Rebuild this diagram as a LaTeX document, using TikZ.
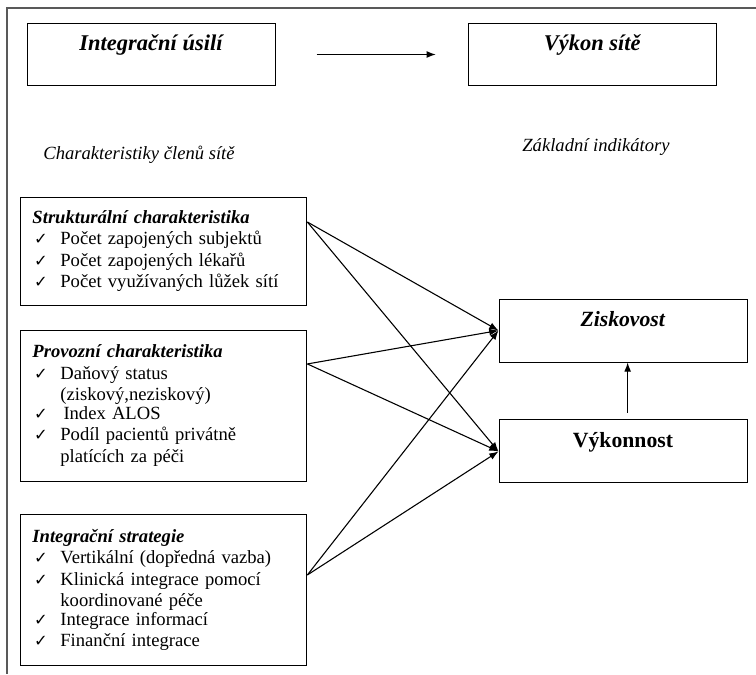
\documentclass[tikz,border=0pt]{standalone}
\usepackage{fontspec}
\setmainfont{Liberation Serif}
\newfontfamily\checkfont{DejaVu Sans}
\usetikzlibrary{arrows.meta,positioning}
\newcommand{\polozka}[1]{\par\noindent\makebox[18pt][l]{\hspace{1pt}{\checkfont\fontsize{10.5}{10}\selectfont ✓}}\parbox[t]{151pt}{\raggedright #1}}

\begin{document}
\begin{tikzpicture}[x=0.645pt, y=-0.645pt,
  ramec/.style={draw, rectangle, line width=0.6pt, inner sep=0pt},
  hlava/.style={ramec, minimum width=160pt, minimum height=39.4pt, font=\fontsize{14.5}{16}\selectfont\bfseries\itshape, text height=10pt, text depth=15pt},
  clen/.style={ramec, minimum width=185pt, text width=169pt, inner xsep=8pt, align=left, font=\fontsize{12}{13.9}\selectfont},
  cil/.style={ramec, minimum width=160pt, minimum height=40.6pt, font=\fontsize{14}{16}\selectfont\bfseries, text height=10pt, text depth=15pt},
  popis/.style={inner sep=0pt, font=\fontsize{12}{14}\selectfont\itshape},
  sipka/.style={-{Latex[length=6pt,width=4.5pt]}, line width=0.7pt}]
  \useasboundingbox (0,0) rectangle (756,674);
  \draw[black!65, line width=1pt] (756,8) -- (7,8) -- (7,674);

  \node[hlava] (usili) at (151,54.5) {Integrační úsilí};
  \node[hlava, right=124pt of usili] (vykonsite) {Výkon sítě};
  \node[popis] (clenove) at (139,155) {Charakteristiky členů sítě};
  \node[popis] (indikatory) at (596,147) {Základní indikátory};

  \node[clen, minimum height=69.7pt] (strukt) at (163.5,251) {\textbf{\textit{Strukturální charakteristika}}
    \polozka{Počet zapojených subjektů}
    \polozka{Počet zapojených lékařů}
    \polozka{Počet využívaných lůžek sítí}};
  \node[clen, minimum height=97.4pt, below=15.5pt of strukt] (provoz) {\textbf{\textit{Provozní charakteristika}}
    \polozka{Daňový status\\(ziskový,neziskový)}
    \polozka{\hspace{2pt}Index ALOS}
    \polozka{Podíl pacientů privátně\\platících za péči}};
  \node[clen, minimum height=96.8pt, below=21.3pt of provoz] (strategie) {\textbf{\textit{Integrační strategie}}
    \polozka{Vertikální (dopředná vazba)}
    \polozka{Klinická integrace pomocí\\koordinované péče}
    \polozka{Integrace informací}
    \polozka{Finanční integrace}};

  \node[cil] (zisk) at (623,330.5) {\textit{Ziskovost}};
  \node[cil, below=36.8pt of zisk] (vykon) {Výkonnost};

  \draw[sipka] ([xshift=26.5pt]usili.east) -- ([xshift=-20.6pt]vykonsite.west);
  \draw[sipka] ([yshift=18.7pt]strukt.east) -- (zisk.west);
  \draw[sipka] ([yshift=18.7pt]strukt.east) -- (vykon.west);
  \draw[sipka] ([yshift=26.8pt]provoz.east) -- (zisk.west);
  \draw[sipka] ([yshift=26.8pt]provoz.east) -- (vykon.west);
  \draw[sipka] ([yshift=9.7pt]strategie.east) -- (zisk.west);
  \draw[sipka] ([yshift=9.7pt]strategie.east) -- (vykon.west);
  \draw[sipka] ([xshift=3pt,yshift=4.5pt]vykon.north) -- ([xshift=3pt]zisk.south);
\end{tikzpicture}
\end{document}
